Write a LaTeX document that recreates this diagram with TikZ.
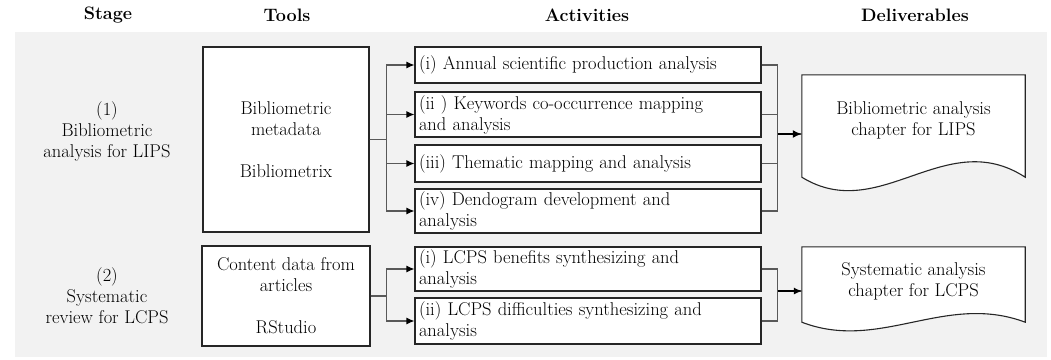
\documentclass[tikz,border=0pt]{standalone}
\usepackage{tikz}
\usetikzlibrary{arrows.meta, backgrounds}

\begin{document}
\begin{tikzpicture}[x=1pt, y=-1pt,
    font=\fontsize{18.5}{21}\selectfont,
    head/.style = {font=\fontsize{18}{21}\selectfont\bfseries},
    stage/.style = {align=center},
    tool/.style = {draw=black!85, fill=white, line width=1.1pt, align=center, inner sep=0pt},
    act/.style = {draw=black!85, fill=white, line width=1.1pt, align=left, text width=338pt, inner xsep=4pt, inner ysep=0pt},
    deliv/.style = {align=center, minimum width=223pt, inner sep=0pt},
    docline/.style = {draw=black!85, fill=white, line width=1.1pt},
    link/.style = {draw=black!65, line width=1.1pt},
    arr/.style = {link, -{Latex[length=8pt, width=7pt, color=black]}},
    bigarr/.style = {draw=black, line width=2pt, -{Latex[length=9pt, width=8pt]}}]
                \useasboundingbox (0,0) rectangle (1051,359);

                % column heads
                \node[head] (hs) at (108,15) {Stage};
                \node[head] (ht) at (287,15) {Tools};
                \node[head] (ha) at (587,15) {Activities};
                \node[head] (hd) at (915,15) {Deliverables};

                \node[stage] (s1) at (107,131) {(1)\\Bibliometric\\analysis for LIPS};
                \node[stage] (s2) at (107,296) {(2)\\Systematic\\review for LCPS};

                \node[tool, minimum width=166pt, minimum height=185pt] (t1) at (286,139.5) {Bibliometric\\metadata\\[21pt]Bibliometrix};
                \node[tool, minimum width=168pt, minimum height=100pt] (t2) at (286,296) {Content data from\\articles\\[21pt]RStudio};

                \node[act, minimum height=36pt] (a1) at (588,65) {(i) Annual scientific production analysis};
                \node[act, minimum height=45pt] (a2) at (588,114.5) {(ii ) Keywords co-occurrence mapping\\and analysis};
                \node[act, minimum height=37pt] (a3) at (588,163.5) {(iii) Thematic mapping and analysis};
                \node[act, minimum height=44pt] (a4) at (588,211) {(iv) Dendogram development and\\analysis};
                \node[act, minimum height=44pt] (b1) at (588,269) {(i) LCPS benefits synthesizing and\\analysis};
                \node[act, minimum height=46pt] (b2) at (588,321) {(ii) LCPS difficulties synthesizing and\\analysis};

                \node[deliv, minimum height=90pt] (d1) at (913.5,120) {Bibliometric analysis\\chapter for LIPS};
                \node[deliv, minimum height=69pt] (d2) at (913.5,281.5) {Systematic analysis\\chapter for LCPS};

                % grey panel and document shapes
                \begin{scope}[on background layer]
                \fill[black!5] (15,32) rectangle (1047,357);
                \path[docline] (d1.north west) -- (d1.north east) -- ([yshift=-12pt]d1.south east)
                    .. controls +(-80,-52) and +(78,48) .. ([yshift=-12pt]d1.south west) -- cycle;
                \path[docline] (d2.north west) -- (d2.north east) -- ([yshift=-6pt]d2.south east)
                    .. controls +(-80,-30) and +(78,30) .. ([yshift=-6pt]d2.south west) -- cycle;
                \end{scope}

                \foreach \a in {a1,a2,a3,a4}
                    \draw[arr] (t1.east) -- ++(17,0) |- (\a.west);
                \foreach \b in {b1,b2}
                    \draw[arr] (t2.east) -- ++(16,0) |- (\b.west);

                \coordinate (e1) at ([yshift=-14pt]d1.west);
                \coordinate (e2) at ([yshift=-9.5pt]d2.west);
                \coordinate (j1) at ([xshift=16pt]a1.east);
                \coordinate (j2) at ([xshift=16pt]b1.east);
                \foreach \a in {a1,a2,a3,a4}
                    \draw[link] (\a.east) -- ++(16,0) |- (e1);
                \foreach \b in {b1,b2}
                    \draw[link] (\b.east) -- ++(16,0) |- (e2);
                \draw[bigarr] (j1 |- e1) -- (e1);
                \draw[arr, draw=black] (j2 |- e2) -- (e2);
\end{tikzpicture}
\end{document}
